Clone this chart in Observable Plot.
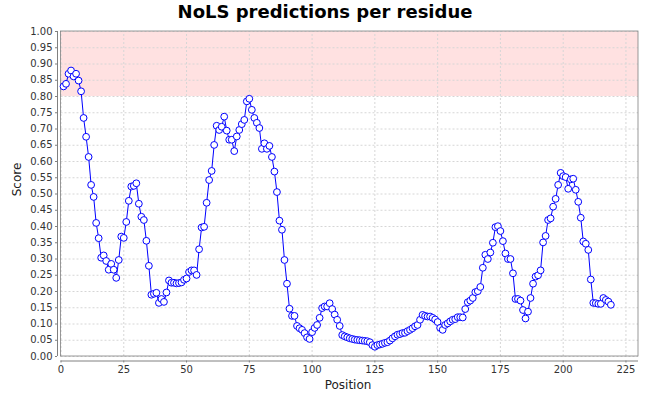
<!DOCTYPE html>
<html>
<head>
<meta charset="utf-8">
<script src="https://cdn.jsdelivr.net/npm/d3@7"></script>
<script src="https://cdn.jsdelivr.net/npm/@observablehq/plot@0.6"></script>
<style>
  html, body { margin: 0; padding: 0; background: #fff; }
  #title { width: 650px; height: 24px; line-height: 24px; text-align: center;
           font-family: "DejaVu Sans", sans-serif; font-weight: bold; font-size: 18px; color: #000; }
  #chart svg { display: block; }
</style>
</head>
<body>
<div id="title">NoLS predictions per residue</div>
<div id="chart"></div>
<script>
// NoLS score per residue (residues 1..219)
const scores = [
  0.831, 0.839, 0.870, 0.880, 0.862, 0.870, 0.849, 0.816, 0.734, 0.676,
  0.614, 0.528, 0.491, 0.411, 0.364, 0.304, 0.311, 0.294, 0.267, 0.285,
  0.267, 0.242, 0.297, 0.369, 0.365, 0.414, 0.479, 0.523, 0.525, 0.533,
  0.470, 0.430, 0.420, 0.356, 0.279, 0.190, 0.193, 0.196, 0.165, 0.177,
  0.168, 0.197, 0.234, 0.227, 0.227, 0.225, 0.226, 0.228, 0.236, 0.240,
  0.260, 0.265, 0.265, 0.251, 0.330, 0.397, 0.399, 0.473, 0.543, 0.571,
  0.651, 0.710, 0.697, 0.707, 0.738, 0.695, 0.667, 0.667, 0.632, 0.677,
  0.697, 0.715, 0.728, 0.785, 0.793, 0.759, 0.734, 0.719, 0.703, 0.639,
  0.656, 0.639, 0.648, 0.614, 0.569, 0.506, 0.418, 0.390, 0.297, 0.224,
  0.147, 0.125, 0.125, 0.094, 0.087, 0.082, 0.072, 0.059, 0.054, 0.075,
  0.088, 0.097, 0.119, 0.149, 0.154, 0.154, 0.164, 0.146, 0.129, 0.113,
  0.094, 0.066, 0.062, 0.059, 0.056, 0.054, 0.052, 0.051, 0.050, 0.049,
  0.048, 0.047, 0.044, 0.035, 0.030, 0.035, 0.037, 0.039, 0.042, 0.044,
  0.049, 0.056, 0.062, 0.067, 0.069, 0.072, 0.073, 0.078, 0.082, 0.087,
  0.093, 0.097, 0.113, 0.128, 0.125, 0.123, 0.123, 0.119, 0.114, 0.106,
  0.088, 0.082, 0.097, 0.102, 0.108, 0.113, 0.115, 0.121, 0.121, 0.120,
  0.146, 0.167, 0.172, 0.180, 0.198, 0.201, 0.214, 0.273, 0.313, 0.300,
  0.320, 0.350, 0.398, 0.401, 0.386, 0.355, 0.317, 0.300, 0.300, 0.256,
  0.177, 0.177, 0.172, 0.143, 0.117, 0.138, 0.180, 0.224, 0.246, 0.250,
  0.265, 0.351, 0.371, 0.420, 0.425, 0.461, 0.485, 0.528, 0.565, 0.555,
  0.552, 0.516, 0.545, 0.547, 0.513, 0.476, 0.427, 0.354, 0.347, 0.328,
  0.237, 0.165, 0.164, 0.162, 0.162, 0.180, 0.174, 0.169, 0.159
];
const xTicks = [0, 25, 50, 75, 100, 125, 150, 175, 200, 225];
const yTicks = [0.00, 0.05, 0.10, 0.15, 0.20, 0.25, 0.30, 0.35, 0.40, 0.45, 0.50,
                0.55, 0.60, 0.65, 0.70, 0.75, 0.80, 0.85, 0.90, 0.95, 1.00];
const xDomain = [0, 230];
const yDomain = [0, 1];
const thresholdBand = [0.8, 1.0];
const xLabel = "Position";
const yLabel = "Score";

const data = scores.map((s, i) => ({position: i + 1, score: s}));

const axisColor = "#808080";
const gridColor = "#d6d6d6";

const chart = Plot.plot({
  width: 650,
  height: 376,
  marginTop: 7,
  marginBottom: 39.5,
  marginLeft: 57,
  marginRight: 12,
  insetLeft: 3.5,
  insetBottom: 4.5,
  style: {fontFamily: "DejaVu Sans, sans-serif", background: "#fff"},
  x: {domain: xDomain, label: null},
  y: {domain: yDomain, label: null},
  marks: [
    // threshold band
    Plot.rect([thresholdBand], {x1: xDomain[0], x2: xDomain[1], y1: d => d[0], y2: d => d[1], fill: "#ffe1e1"}),
    // gridlines
    Plot.ruleY(yTicks, {y: d => d, x1: xDomain[0], x2: xDomain[1], stroke: gridColor, strokeDasharray: "2,2", strokeWidth: 1}),
    Plot.ruleX(xTicks, {x: d => d, y1: yDomain[0], y2: yDomain[1], stroke: gridColor, strokeDasharray: "2,2", strokeWidth: 1}),
    // plot outline
    Plot.rect([0], {x1: xDomain[0], x2: xDomain[1], y1: yDomain[0], y2: yDomain[1], fill: "none", stroke: axisColor, strokeWidth: 0.8}),
    // offset axis lines
    Plot.ruleY([0], {x1: xDomain[0], x2: xDomain[1], dy: 4.5, stroke: axisColor}),
    Plot.ruleX([0], {y1: yDomain[0], y2: yDomain[1], dx: -3.5, stroke: axisColor}),
    // series
    Plot.line(data, {x: "position", y: "score", stroke: "#0000ff", strokeWidth: 1}),
    Plot.dot(data, {x: "position", y: "score", r: 3.4, fill: "#ffffff", stroke: "#0000ff", strokeWidth: 1}),
    // axes
    Plot.axisX(xTicks, {tickSize: 2, tickPadding: 3, fontSize: 10, stroke: axisColor, fill: "#333", label: null}),
    Plot.axisY(yTicks, {tickSize: 2, tickPadding: 3, fontSize: 10, stroke: axisColor, fill: "#333", tickFormat: d3.format(".2f"), label: null}),
    // axis titles
    Plot.text([yLabel], {text: d => d, frameAnchor: "left", dx: -40, rotate: -90, fontSize: 12, fill: "#222"}),
    Plot.text([xLabel], {text: d => d, frameAnchor: "bottom", dy: 27.5, fontSize: 12, fill: "#222"})
  ]
});
document.getElementById("chart").appendChild(chart);
</script>
</body>
</html>
